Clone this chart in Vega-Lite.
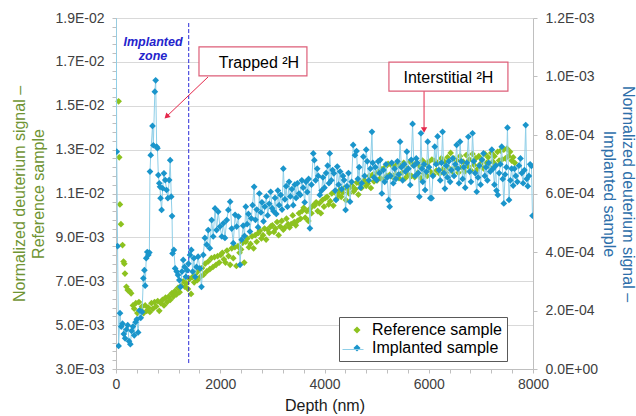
{
"$schema": "https://vega.github.io/schema/vega-lite/v6.json",
"width": 417, "height": 351,
"autosize": {"type": "none"},
"padding": {"left": 116, "top": 18, "right": 103, "bottom": 47},
"background": "white",
"config": {"font": "Liberation Sans", "view": {"stroke": null}, "axis": {"titleFontWeight": "normal", "labelFont": "Liberation Sans", "titleFont": "Liberation Sans"}},
"datasets": {
"ref": [{"d":50,"v":15.2e-3},{"d":62,"v":12.65e-3},{"d":75,"v":10.5e-3},{"d":95,"v":9.6e-3},{"d":125,"v":8.65e-3},{"d":145,"v":7.9e-3},{"d":160,"v":7.8e-3},{"d":172,"v":7.35e-3},{"d":200,"v":6.75e-3},{"d":225,"v":6.6e-3},{"d":260,"v":6.55e-3},{"d":290,"v":6.45e-3},{"d":325,"v":5.9e-3},{"d":350,"v":5.75e-3},{"d":380,"v":6.0e-3},{"d":410,"v":5.55e-3},{"d":440,"v":6.05e-3},{"d":470,"v":5.7e-3},{"d":500,"v":5.85e-3},{"d":530,"v":5.55e-3},{"d":560,"v":5.9e-3},{"d":590,"v":5.65e-3},{"d":620,"v":5.8e-3},{"d":650,"v":5.6e-3},{"d":680,"v":6.0e-3},{"d":710,"v":5.75e-3},{"d":740,"v":6.05e-3},{"d":770,"v":5.85e-3},{"d":800,"v":6.1e-3},{"d":830,"v":5.65e-3},{"d":860,"v":6.0e-3},{"d":890,"v":6.15e-3},{"d":920,"v":5.9e-3},{"d":950,"v":6.25e-3},{"d":980,"v":6.05e-3},{"d":1010,"v":6.3e-3},{"d":1040,"v":6.15e-3},{"d":1070,"v":6.45e-3},{"d":1100,"v":6.3e-3},{"d":1130,"v":6.55e-3},{"d":1160,"v":6.4e-3},{"d":1190,"v":6.7e-3},{"d":1220,"v":6.5e-3},{"d":1250,"v":6.8e-3},{"d":1290,"v":7.0e-3},{"d":1320,"v":6.75e-3},{"d":1350,"v":6.9e-3},{"d":1380,"v":6.65e-3},{"d":1410,"v":7.1e-3},{"d":1440,"v":6.42e-3},{"d":1470,"v":7.2e-3},{"d":1500,"v":6.95e-3},{"d":1530,"v":7.35e-3},{"d":1560,"v":7.05e-3},{"d":1590,"v":7.5e-3},{"d":1620,"v":7.2e-3},{"d":1650,"v":7.6e-3},{"d":1680,"v":7.3e-3},{"d":1710,"v":7.8e-3},{"d":1740,"v":7.45e-3},{"d":1770,"v":7.9e-3},{"d":1800,"v":7.55e-3},{"d":1830,"v":8.05e-3},{"d":1860,"v":7.65e-3},{"d":1890,"v":8.1e-3},{"d":1920,"v":7.75e-3},{"d":1950,"v":8.15e-3},{"d":1980,"v":7.85e-3},{"d":2010,"v":8.2e-3},{"d":2040,"v":8.3e-3},{"d":2070,"v":8.0e-3},{"d":2100,"v":7.85e-3},{"d":2130,"v":8.4e-3},{"d":2160,"v":8.15e-3},{"d":2190,"v":7.75e-3},{"d":2220,"v":8.5e-3},{"d":2250,"v":8.05e-3},{"d":2280,"v":8.55e-3},{"d":2310,"v":7.7e-3},{"d":2340,"v":8.6e-3},{"d":2370,"v":8.3e-3},{"d":2400,"v":8.45e-3},{"d":2430,"v":8.75e-3},{"d":2460,"v":7.85e-3},{"d":2490,"v":8.8e-3},{"d":2520,"v":8.95e-3},{"d":2550,"v":8.55e-3},{"d":2580,"v":8.7e-3},{"d":2610,"v":9.05e-3},{"d":2640,"v":8.5e-3},{"d":2670,"v":9.1e-3},{"d":2700,"v":8.8e-3},{"d":2730,"v":9.2e-3},{"d":2760,"v":9.3e-3},{"d":2790,"v":8.95e-3},{"d":2820,"v":9.1e-3},{"d":2850,"v":9.4e-3},{"d":2880,"v":8.9e-3},{"d":2910,"v":9.35e-3},{"d":2940,"v":9.2e-3},{"d":2970,"v":9.5e-3},{"d":3000,"v":9.55e-3},{"d":3030,"v":9.25e-3},{"d":3060,"v":9.4e-3},{"d":3090,"v":9.7e-3},{"d":3120,"v":9.1e-3},{"d":3150,"v":9.5e-3},{"d":3180,"v":9.75e-3},{"d":3210,"v":9.35e-3},{"d":3240,"v":9.45e-3},{"d":3270,"v":9.85e-3},{"d":3300,"v":9.6e-3},{"d":3330,"v":9.45e-3},{"d":3360,"v":9.6e-3},{"d":3390,"v":10.0e-3},{"d":3420,"v":9.7e-3},{"d":3450,"v":9.55e-3},{"d":3480,"v":9.75e-3},{"d":3510,"v":10.1e-3},{"d":3540,"v":9.85e-3},{"d":3570,"v":10.2e-3},{"d":3600,"v":10.35e-3},{"d":3630,"v":9.9e-3},{"d":3660,"v":10.2e-3},{"d":3690,"v":9.75e-3},{"d":3720,"v":10.3e-3},{"d":3750,"v":10.1e-3},{"d":3780,"v":10.45e-3},{"d":3810,"v":10.45e-3},{"d":3840,"v":10.6e-3},{"d":3870,"v":10.2e-3},{"d":3900,"v":10.55e-3},{"d":3930,"v":10.1e-3},{"d":3960,"v":10.7e-3},{"d":3990,"v":10.4e-3},{"d":4020,"v":10.8e-3},{"d":4050,"v":10.85e-3},{"d":4080,"v":10.5e-3},{"d":4110,"v":10.65e-3},{"d":4140,"v":11.0e-3},{"d":4170,"v":10.45e-3},{"d":4200,"v":11.05e-3},{"d":4230,"v":10.75e-3},{"d":4260,"v":10.95e-3},{"d":4290,"v":11.15e-3},{"d":4320,"v":10.85e-3},{"d":4350,"v":11.05e-3},{"d":4380,"v":11.25e-3},{"d":4410,"v":10.7e-3},{"d":4440,"v":11.2e-3},{"d":4470,"v":11.0e-3},{"d":4500,"v":11.3e-3},{"d":4530,"v":11.35e-3},{"d":4560,"v":11.1e-3},{"d":4590,"v":11.2e-3},{"d":4620,"v":11.5e-3},{"d":4650,"v":10.95e-3},{"d":4680,"v":11.45e-3},{"d":4710,"v":11.25e-3},{"d":4740,"v":11.55e-3},{"d":4770,"v":11.6e-3},{"d":4800,"v":11.35e-3},{"d":4830,"v":11.45e-3},{"d":4860,"v":11.8e-3},{"d":4890,"v":11.25e-3},{"d":4920,"v":11.85e-3},{"d":4950,"v":11.55e-3},{"d":4980,"v":11.9e-3},{"d":5010,"v":11.6e-3},{"d":5040,"v":12.0e-3},{"d":5070,"v":11.7e-3},{"d":5100,"v":12.1e-3},{"d":5130,"v":11.65e-3},{"d":5160,"v":12.2e-3},{"d":5190,"v":11.8e-3},{"d":5220,"v":12.35e-3},{"d":5250,"v":11.85e-3},{"d":5280,"v":12.3e-3},{"d":5310,"v":11.75e-3},{"d":5340,"v":12.2e-3},{"d":5370,"v":11.9e-3},{"d":5400,"v":12.35e-3},{"d":5430,"v":11.7e-3},{"d":5460,"v":12.25e-3},{"d":5490,"v":11.95e-3},{"d":5520,"v":12.4e-3},{"d":5550,"v":11.7e-3},{"d":5580,"v":12.15e-3},{"d":5610,"v":11.85e-3},{"d":5640,"v":12.45e-3},{"d":5670,"v":11.8e-3},{"d":5700,"v":12.3e-3},{"d":5730,"v":11.75e-3},{"d":5760,"v":12.4e-3},{"d":5790,"v":11.95e-3},{"d":5820,"v":12.25e-3},{"d":5850,"v":11.7e-3},{"d":5880,"v":12.5e-3},{"d":5910,"v":11.9e-3},{"d":5940,"v":12.35e-3},{"d":5970,"v":11.8e-3},{"d":6000,"v":12.45e-3},{"d":6030,"v":12.0e-3},{"d":6060,"v":12.55e-3},{"d":6090,"v":11.85e-3},{"d":6120,"v":12.5e-3},{"d":6150,"v":12.05e-3},{"d":6180,"v":12.4e-3},{"d":6210,"v":11.9e-3},{"d":6240,"v":12.6e-3},{"d":6270,"v":12.1e-3},{"d":6300,"v":12.45e-3},{"d":6330,"v":11.95e-3},{"d":6360,"v":12.65e-3},{"d":6390,"v":12.15e-3},{"d":6420,"v":12.85e-3},{"d":6450,"v":12.0e-3},{"d":6480,"v":12.6e-3},{"d":6510,"v":12.2e-3},{"d":6540,"v":12.5e-3},{"d":6570,"v":11.95e-3},{"d":6600,"v":12.7e-3},{"d":6630,"v":12.2e-3},{"d":6660,"v":12.45e-3},{"d":6690,"v":12.0e-3},{"d":6720,"v":12.75e-3},{"d":6750,"v":12.25e-3},{"d":6780,"v":12.55e-3},{"d":6810,"v":12.05e-3},{"d":6840,"v":12.8e-3},{"d":6870,"v":12.3e-3},{"d":6900,"v":12.6e-3},{"d":6930,"v":12.1e-3},{"d":6960,"v":12.7e-3},{"d":6990,"v":12.35e-3},{"d":7020,"v":12.55e-3},{"d":7050,"v":12.15e-3},{"d":7080,"v":12.8e-3},{"d":7110,"v":12.4e-3},{"d":7140,"v":12.65e-3},{"d":7170,"v":12.2e-3},{"d":7200,"v":12.85e-3},{"d":7230,"v":12.45e-3},{"d":7260,"v":12.7e-3},{"d":7290,"v":12.3e-3},{"d":7320,"v":12.9e-3},{"d":7350,"v":12.5e-3},{"d":7380,"v":12.95e-3},{"d":7410,"v":12.55e-3},{"d":7440,"v":13.0e-3},{"d":7470,"v":12.6e-3},{"d":7500,"v":13.05e-3},{"d":7530,"v":12.7e-3},{"d":7560,"v":12.9e-3},{"d":7590,"v":12.5e-3},{"d":7620,"v":12.65e-3},{"d":7650,"v":12.4e-3}],
"imp": [{"d":0,"v":15e-4},{"d":14,"v":7.43e-4},{"d":30,"v":4.2e-4},{"d":50,"v":0.79e-4},{"d":77,"v":1.91e-4},{"d":100,"v":1.45e-4},{"d":125,"v":1.55e-4},{"d":150,"v":1.2e-4},{"d":175,"v":1.05e-4},{"d":200,"v":1.35e-4},{"d":225,"v":1.5e-4},{"d":250,"v":0.95e-4},{"d":275,"v":0.85e-4},{"d":300,"v":1.3e-4},{"d":325,"v":1.45e-4},{"d":350,"v":1.15e-4},{"d":375,"v":1.6e-4},{"d":400,"v":1.7e-4},{"d":425,"v":1.25e-4},{"d":450,"v":2.0e-4},{"d":475,"v":1.75e-4},{"d":500,"v":1.95e-4},{"d":525,"v":3.1e-4},{"d":545,"v":3.38e-4},{"d":560,"v":2.85e-4},{"d":580,"v":3.79e-4},{"d":600,"v":4.0e-4},{"d":620,"v":3.9e-4},{"d":640,"v":3.98e-4},{"d":652,"v":6.75e-4},{"d":666,"v":7.31e-4},{"d":700,"v":8.31e-4},{"d":716,"v":7.65e-4},{"d":745,"v":9.48e-4},{"d":761,"v":9.87e-4},{"d":780,"v":7.6e-4},{"d":795,"v":7.55e-4},{"d":812,"v":6.63e-4},{"d":830,"v":6.35e-4},{"d":845,"v":6.23e-4},{"d":855,"v":5.84e-4},{"d":875,"v":5.44e-4},{"d":895,"v":6.18e-4},{"d":920,"v":6.69e-4},{"d":945,"v":6.46e-4},{"d":970,"v":6.12e-4},{"d":995,"v":5.84e-4},{"d":1020,"v":6.46e-4},{"d":1040,"v":7.14e-4},{"d":1060,"v":5.89e-4},{"d":1075,"v":5.23e-4},{"d":1085,"v":3.95e-4},{"d":1110,"v":4.07e-4},{"d":1135,"v":3.44e-4},{"d":1165,"v":3.33e-4},{"d":1190,"v":3.21e-4},{"d":1215,"v":3.04e-4},{"d":1240,"v":2.81e-4},{"d":1265,"v":3.33e-4},{"d":1290,"v":3.73e-4},{"d":1315,"v":3.49e-4},{"d":1340,"v":3.15e-4},{"d":1365,"v":3.38e-4},{"d":1390,"v":3.6e-4},{"d":1420,"v":3.9e-4},{"d":1445,"v":4.07e-4},{"d":1470,"v":3.33e-4},{"d":1495,"v":3.79e-4},{"d":1520,"v":3.15e-4},{"d":1545,"v":3.49e-4},{"d":1575,"v":3.84e-4},{"d":1610,"v":3.44e-4},{"d":1640,"v":2.81e-4},{"d":1675,"v":3.9e-4},{"d":1705,"v":4.48e-4},{"d":1740,"v":4.25e-4},{"d":1770,"v":4.75e-4},{"d":1800,"v":4.13e-4},{"d":1835,"v":5.09e-4},{"d":1865,"v":4.53e-4},{"d":1900,"v":5.49e-4},{"d":1930,"v":4.75e-4},{"d":1960,"v":5.38e-4},{"d":1995,"v":4.87e-4},{"d":2030,"v":4.53e-4},{"d":2060,"v":4.98e-4},{"d":2090,"v":4.48e-4},{"d":2125,"v":5.09e-4},{"d":2155,"v":5.44e-4},{"d":2190,"v":5.72e-4},{"d":2220,"v":4.8e-4},{"d":2250,"v":4.3e-4},{"d":2285,"v":5.27e-4},{"d":2315,"v":4.87e-4},{"d":2350,"v":5.21e-4},{"d":2380,"v":3.56e-4},{"d":2410,"v":4.42e-4},{"d":2440,"v":4.9e-4},{"d":2465,"v":4.55e-4},{"d":2490,"v":5.55e-4},{"d":2515,"v":4.95e-4},{"d":2540,"v":5.3e-4},{"d":2570,"v":4.7e-4},{"d":2595,"v":5.15e-4},{"d":2620,"v":5.6e-4},{"d":2650,"v":6.23e-4},{"d":2675,"v":5.1e-4},{"d":2700,"v":5.45e-4},{"d":2725,"v":4.85e-4},{"d":2750,"v":6.0e-4},{"d":2780,"v":5.35e-4},{"d":2800,"v":5.7e-4},{"d":2830,"v":5.05e-4},{"d":2855,"v":5.55e-4},{"d":2885,"v":5.9e-4},{"d":2910,"v":5.25e-4},{"d":2940,"v":5.65e-4},{"d":2967,"v":6.06e-4},{"d":2995,"v":5.5e-4},{"d":3020,"v":5.4e-4},{"d":3050,"v":5.85e-4},{"d":3075,"v":5.3e-4},{"d":3105,"v":6.1e-4},{"d":3130,"v":5.6e-4},{"d":3160,"v":5.95e-4},{"d":3185,"v":5.45e-4},{"d":3210,"v":6.85e-4},{"d":3240,"v":5.8e-4},{"d":3265,"v":6.25e-4},{"d":3290,"v":5.55e-4},{"d":3320,"v":6.4e-4},{"d":3345,"v":5.9e-4},{"d":3375,"v":6.15e-4},{"d":3400,"v":5.6e-4},{"d":3430,"v":6.3e-4},{"d":3455,"v":5.85e-4},{"d":3480,"v":6.35e-4},{"d":3510,"v":6.0e-4},{"d":3535,"v":5.95e-4},{"d":3565,"v":6.45e-4},{"d":3590,"v":6.2e-4},{"d":3620,"v":5.7e-4},{"d":3645,"v":6.4e-4},{"d":3670,"v":6.05e-4},{"d":3695,"v":6.5e-4},{"d":3720,"v":4.81e-4},{"d":3750,"v":6.3e-4},{"d":3785,"v":7.37e-4},{"d":3805,"v":7.14e-4},{"d":3830,"v":6.45e-4},{"d":3860,"v":6.85e-4},{"d":3880,"v":6.6e-4},{"d":3910,"v":5.95e-4},{"d":3945,"v":6.1e-4},{"d":3970,"v":6.55e-4},{"d":4000,"v":6.2e-4},{"d":4030,"v":6.7e-4},{"d":4060,"v":6.95e-4},{"d":4085,"v":6.35e-4},{"d":4100,"v":7.37e-4},{"d":4130,"v":6.45e-4},{"d":4155,"v":6.8e-4},{"d":4180,"v":6.69e-4},{"d":4205,"v":6.1e-4},{"d":4220,"v":5.78e-4},{"d":4245,"v":6.92e-4},{"d":4270,"v":6.3e-4},{"d":4300,"v":6.75e-4},{"d":4330,"v":6.15e-4},{"d":4355,"v":6.6e-4},{"d":4375,"v":6.46e-4},{"d":4405,"v":5.44e-4},{"d":4430,"v":6.25e-4},{"d":4460,"v":6.7e-4},{"d":4490,"v":5.72e-4},{"d":4520,"v":6.4e-4},{"d":4550,"v":7.66e-4},{"d":4585,"v":7.31e-4},{"d":4615,"v":7.45e-4},{"d":4640,"v":6.5e-4},{"d":4665,"v":6.9e-4},{"d":4690,"v":6.2e-4},{"d":4715,"v":6.35e-4},{"d":4745,"v":7.26e-4},{"d":4770,"v":6.6e-4},{"d":4800,"v":7.5e-4},{"d":4820,"v":7.1e-4},{"d":4850,"v":6.45e-4},{"d":4880,"v":6.85e-4},{"d":4910,"v":8.11e-4},{"d":4925,"v":7.05e-4},{"d":4950,"v":6.55e-4},{"d":4975,"v":6.9e-4},{"d":5000,"v":6.46e-4},{"d":5030,"v":7.1e-4},{"d":5055,"v":6.7e-4},{"d":5070,"v":7.15e-4},{"d":5100,"v":6.0e-4},{"d":5130,"v":6.8e-4},{"d":5155,"v":6.4e-4},{"d":5180,"v":7.0e-4},{"d":5205,"v":6.55e-4},{"d":5230,"v":5.78e-4},{"d":5250,"v":5.55e-4},{"d":5265,"v":6.6e-4},{"d":5290,"v":7.05e-4},{"d":5320,"v":6.35e-4},{"d":5345,"v":6.85e-4},{"d":5370,"v":6.5e-4},{"d":5400,"v":7.1e-4},{"d":5425,"v":6.65e-4},{"d":5450,"v":7.77e-4},{"d":5475,"v":6.9e-4},{"d":5500,"v":6.45e-4},{"d":5530,"v":7.0e-4},{"d":5555,"v":6.75e-4},{"d":5580,"v":7.43e-4},{"d":5610,"v":6.85e-4},{"d":5645,"v":6.29e-4},{"d":5665,"v":7.15e-4},{"d":5690,"v":8.38e-4},{"d":5715,"v":6.95e-4},{"d":5740,"v":6.6e-4},{"d":5760,"v":7.2e-4},{"d":5780,"v":7.05e-4},{"d":5800,"v":6.7e-4},{"d":5820,"v":5.89e-4},{"d":5850,"v":8.06e-4},{"d":5870,"v":6.85e-4},{"d":5885,"v":6.4e-4},{"d":5910,"v":7.0e-4},{"d":5930,"v":6.12e-4},{"d":5955,"v":6.75e-4},{"d":5980,"v":7.77e-4},{"d":6005,"v":6.9e-4},{"d":6030,"v":5.84e-4},{"d":6055,"v":5.84e-4},{"d":6080,"v":6.6e-4},{"d":6115,"v":7.6e-4},{"d":6140,"v":7.0e-4},{"d":6170,"v":7.95e-4},{"d":6195,"v":6.8e-4},{"d":6220,"v":6.45e-4},{"d":6245,"v":7.05e-4},{"d":6265,"v":8.11e-4},{"d":6290,"v":6.7e-4},{"d":6310,"v":6.17e-4},{"d":6335,"v":6.95e-4},{"d":6360,"v":6.55e-4},{"d":6385,"v":7.1e-4},{"d":6410,"v":6.4e-4},{"d":6435,"v":6.8e-4},{"d":6460,"v":7.2e-4},{"d":6485,"v":6.6e-4},{"d":6510,"v":7.0e-4},{"d":6535,"v":7.66e-4},{"d":6560,"v":6.85e-4},{"d":6580,"v":6.35e-4},{"d":6600,"v":7.77e-4},{"d":6625,"v":7.1e-4},{"d":6650,"v":6.5e-4},{"d":6675,"v":6.9e-4},{"d":6700,"v":6.2e-4},{"d":6730,"v":7.05e-4},{"d":6760,"v":7.94e-4},{"d":6785,"v":6.75e-4},{"d":6810,"v":6.4e-4},{"d":6840,"v":8.06e-4},{"d":6865,"v":7.1e-4},{"d":6890,"v":6.7e-4},{"d":6920,"v":6.06e-4},{"d":6945,"v":6.55e-4},{"d":6970,"v":6.95e-4},{"d":6995,"v":6.3e-4},{"d":7020,"v":7.15e-4},{"d":7050,"v":7.37e-4},{"d":7075,"v":6.6e-4},{"d":7100,"v":6.9e-4},{"d":7125,"v":6.45e-4},{"d":7150,"v":7.05e-4},{"d":7180,"v":6.75e-4},{"d":7210,"v":7.5e-4},{"d":7235,"v":6.85e-4},{"d":7260,"v":6.3e-4},{"d":7285,"v":6.95e-4},{"d":7300,"v":6.1e-4},{"d":7325,"v":5.95e-4},{"d":7350,"v":6.7e-4},{"d":7375,"v":7.0e-4},{"d":7400,"v":7.6e-4},{"d":7420,"v":6.5e-4},{"d":7440,"v":5.66e-4},{"d":7465,"v":6.65e-4},{"d":7490,"v":6.9e-4},{"d":7510,"v":8.25e-4},{"d":7540,"v":5.78e-4},{"d":7565,"v":6.45e-4},{"d":7590,"v":6.85e-4},{"d":7620,"v":6.27e-4},{"d":7645,"v":6.85e-4},{"d":7670,"v":6.6e-4},{"d":7700,"v":6.4e-4},{"d":7730,"v":6.95e-4},{"d":7760,"v":7.2e-4},{"d":7785,"v":6.7e-4},{"d":7810,"v":6.35e-4},{"d":7835,"v":6.8e-4},{"d":7860,"v":8.34e-4},{"d":7880,"v":6.5e-4},{"d":7900,"v":6.25e-4},{"d":7920,"v":6.6e-4},{"d":7945,"v":7.0e-4},{"d":7970,"v":6.94e-4},{"d":7990,"v":5.24e-4}],
"zone": [{"d":1395,"v":0.01877,"v2":0.00327}],
"zonetext": [{"d":710,"v":0.017745,"t":"Implanted"},{"d":710,"v":0.01708,"t":"zone"}],
"boxes": [{"d":1592,"d2":3663,"v":0.01768,"v2":0.01636},{"d":5236,"d2":7519,"v":0.01699,"v2":0.01567}],
"labels": [{"d":2743,"v":0.016742,"t":"Trapped ²H"},{"d":6377,"v":0.01605,"t":"Interstitial ²H"}],
"arrows": [{"d":1765,"v":0.01631,"d2":982,"v2":0.014536},{"d":5910,"v":0.01567,"d2":5910,"v2":0.01389}],
"head1": [{"d":982,"v":0.014536}],
"head2": [{"d":5910,"v":0.01389}]
},
"encoding": {
"x": {"field": "d", "type": "quantitative", "scale": {"domain": [0, 8000], "nice": false, "zero": false},
"axis": {"title": "Depth (nm)", "values": [0,400,800,1200,1600,2000,2400,2800,3200,3600,4000,4400,4800,5200,5600,6000,6400,6800,7200,7600,8000],
"labelExpr": "datum.value % 2000 == 0 ? format(datum.value, 'd') : ''", "labelFlush": false, "labelOverlap": false,
"labelFontSize": 14, "labelColor": "#404040", "labelPadding": 4, "tickSize": 4, "tickColor": "#BFBFBF", "domainColor": "#BFBFBF", "grid": false,
"titleFontSize": 16, "titleColor": "#1a1a1a", "titleX": 208.5, "titleY": 36, "titleBaseline": "middle", "titleAlign": "center"}}
},
"layer": [
{
"encoding": {"y": {"field": "v", "type": "quantitative", "scale": {"domain": [0.003, 0.019], "nice": false, "zero": false},
"axis": {"values": [0.003,0.0034,0.0038,0.0042,0.0046,0.005,0.0054,0.0058,0.0062,0.0066,0.007,0.0074,0.0078,0.0082,0.0086,0.009,0.0094,0.0098,0.0102,0.0106,0.011,0.0114,0.0118,0.0122,0.0126,0.013,0.0134,0.0138,0.0142,0.0146,0.015,0.0154,0.0158,0.0162,0.0166,0.017,0.0174,0.0178,0.0182,0.0186,0.019],
"labelExpr": "abs(datum.value*1000 - round(datum.value*1000)) < 0.001 ? replace(replace(format(datum.value, '.1e'), 'e-', 'E-0'), 'e+', 'E+0') : ''",
"labelOverlap": false, "labelFontSize": 14, "labelColor": "#404040", "labelPadding": 8, "tickSize": 4, "tickColor": "#BFBFBF", "domainColor": "#BFBFBF",
"grid": true, "gridColor": "#D9D9D9", "gridOpacity": {"condition": {"test": "abs(datum.value*1000 - round(datum.value*1000)) < 0.001", "value": 1}, "value": 0},
"title": ["Normalized deuterium signal –", "Reference sample"], "titleColor": "#6F9433", "titleFontSize": 16, "titleX": -97, "titleY": 175.5, "titleAngle": 270, "titleBaseline": "middle", "titleAlign": "center", "titleLineHeight": 19}}},
"layer": [
{"data": {"name": "ref"}, "mark": {"type": "point", "shape": "diamond", "filled": true, "size": 45, "opacity": 1, "strokeWidth": 0},
"encoding": {"color": {"datum": "Reference sample", "type": "nominal", "scale": {"domain": ["Reference sample", "Implanted sample"], "range": ["#8DC21F", "#1A95CB"]},
"legend": {"title": null, "orient": "none", "legendX": 223, "legendY": 299, "direction": "vertical", "fillColor": "white", "strokeColor": "#595959", "padding": 5, "symbolType": "diamond", "symbolSize": 50, "symbolOpacity": 1, "symbolOffset": 5, "labelOffset": 7, "labelFontSize": 16, "labelColor": "black", "labelFont": "Liberation Sans", "rowPadding": 2,
"labelExpr": "datum.label + '\u00a0\u00a0\u00a0'"}}}},
{"data": {"name": "zone"}, "mark": {"type": "rule", "color": "#2B2BD9", "strokeDash": [4, 2], "strokeWidth": 1}, "encoding": {"y2": {"field": "v2"}}},
{"data": {"name": "zonetext"}, "mark": {"type": "text", "fontSize": 12.5, "fontStyle": "italic", "fontWeight": "bold", "color": "#2424CC", "baseline": "alphabetic", "align": "center"}, "encoding": {"text": {"field": "t"}}},
{"data": {"name": "arrows"}, "mark": {"type": "rule", "color": "#E5284B", "strokeWidth": 1}, "encoding": {"x2": {"field": "d2"}, "y2": {"field": "v2"}}},
{"data": {"name": "head1"}, "mark": {"type": "point", "shape": "triangle", "angle": 226, "filled": true, "size": 40, "opacity": 1, "color": "#E5284B"}},
{"data": {"name": "head2"}, "mark": {"type": "point", "shape": "triangle-down", "filled": true, "size": 40, "opacity": 1, "color": "#E5284B"}},
{"data": {"name": "boxes"}, "mark": {"type": "rect", "fill": "white", "stroke": "#DD5E78", "strokeWidth": 1.2}, "encoding": {"x2": {"field": "d2"}, "y2": {"field": "v2"}}},
{"data": {"name": "labels"}, "mark": {"type": "text", "fontSize": 16, "color": "black", "baseline": "alphabetic", "align": "center"}, "encoding": {"text": {"field": "t"}}}
]
},
{
"encoding": {"y": {"field": "v", "type": "quantitative", "scale": {"domain": [0, 0.0012], "nice": false, "zero": false},
"axis": {"orient": "right", "values": [0, 0.0002, 0.0004, 0.0006, 0.0008, 0.001, 0.0012],
"labelExpr": "replace(replace(format(datum.value, '.1e'), 'e-', 'E-0'), 'e+', 'E+0')",
"labelOverlap": false, "labelFontSize": 14, "labelColor": "#404040", "labelPadding": 8, "tickSize": 4, "tickColor": "#BFBFBF", "domainColor": "#BFBFBF", "grid": false,
"title": ["Normalized deuterium signal –", "Implanted sample"], "titleColor": "#2E6FAA", "titleFontSize": 16, "titleX": 94, "titleY": 175.5, "titleAngle": 90, "titleBaseline": "middle", "titleAlign": "center", "titleLineHeight": 19}}},
"layer": [
{"data": {"name": "imp"}, "mark": {"type": "line", "strokeWidth": 1, "clip": true},
"encoding": {"stroke": {"datum": "Implanted sample", "type": "nominal", "scale": {"domain": ["Implanted sample"], "range": ["#8FCFE8"]},
"legend": {"title": null, "orient": "none", "legendX": 218, "legendY": 315.5, "padding": 5, "symbolType": "stroke", "symbolSize": 441, "symbolStrokeWidth": 1, "symbolOffset": 3, "labelExpr": "''", "labelFontSize": 16, "fillColor": null, "strokeColor": null}}}},
{"data": {"name": "imp"}, "mark": {"type": "point", "shape": "diamond", "filled": true, "size": 45, "opacity": 1, "strokeWidth": 0, "clip": true, "color": "#1A95CB"}, "encoding": {}}
]
}
],
"resolve": {"scale": {"y": "independent"}, "axis": {"y": "independent"}}
}
